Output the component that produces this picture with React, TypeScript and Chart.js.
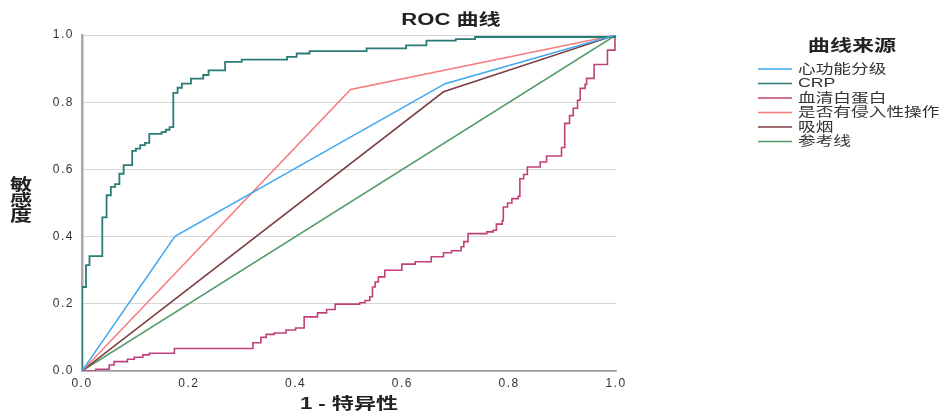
import React, { useEffect, useRef } from 'react';
import { Chart, registerables } from 'chart.js';

Chart.register(...registerables);

// ---- texts ----
const chartTitle = 'ROC 曲线';
const xAxisTitle = '1 - 特异性';
const yAxisTitle = ['敏', '感', '度'];
const legendTitle = '曲线来源';

// ---- series ----
const seriesLabels = ['心功能分级', 'CRP', '血清白蛋白', '是否有侵入性操作', '吸烟', '参考线'];
const seriesColors = ['#3fa6ef', '#2b7b76', '#c0407a', '#f7797c', '#7d3c3f', '#4f9c66'];

const tickValues = [0, 0.2, 0.4, 0.6, 0.8, 1.0];

const heartFpr = [0, 0.174, 0.68, 1];
const heartTpr = [0, 0.401, 0.855, 1];

const invasiveFpr = [0, 0.503, 1];
const invasiveTpr = [0, 0.838, 1];

const smokeFpr = [0, 0.677, 1];
const smokeTpr = [0, 0.831, 1];

const refFpr = [0, 1];
const refTpr = [0, 1];

// step points: at fpr, sensitivity rises to tpr
const crpFpr = [0, 0, 0.0075, 0.014, 0.038, 0.046, 0.054, 0.062, 0.070, 0.078, 0.094, 0.101, 0.109, 0.118, 0.126, 0.149, 0.157, 0.164, 0.171, 0.179, 0.187, 0.204, 0.227, 0.237, 0.268, 0.299, 0.384, 0.402, 0.426, 0.533, 0.607, 0.645, 0.700, 0.736, 1.0];
const crpTpr = [0, 0.25, 0.315, 0.342, 0.457, 0.523, 0.548, 0.556, 0.587, 0.613, 0.655, 0.662, 0.672, 0.679, 0.706, 0.711, 0.718, 0.726, 0.828, 0.843, 0.855, 0.870, 0.881, 0.895, 0.920, 0.927, 0.935, 0.945, 0.952, 0.960, 0.969, 0.983, 0.988, 0.994, 1.0];

const albFpr = [0, 0.026, 0.051, 0.060, 0.085, 0.098, 0.114, 0.126, 0.173, 0.320, 0.335, 0.345, 0.360, 0.382, 0.400, 0.416, 0.441, 0.458, 0.474, 0.520, 0.530, 0.539, 0.544, 0.549, 0.555, 0.567, 0.599, 0.624, 0.654, 0.677, 0.692, 0.710, 0.715, 0.723, 0.758, 0.770, 0.776, 0.787, 0.789, 0.797, 0.805, 0.817, 0.820, 0.827, 0.834, 0.858, 0.870, 0.898, 0.904, 0.913, 0.920, 0.928, 0.933, 0.942, 0.945, 0.959, 0.984, 0.998];
const albTpr = [0, 0.005, 0.018, 0.028, 0.035, 0.041, 0.048, 0.053, 0.067, 0.084, 0.100, 0.109, 0.113, 0.122, 0.128, 0.161, 0.173, 0.183, 0.199, 0.203, 0.210, 0.221, 0.250, 0.265, 0.280, 0.300, 0.318, 0.325, 0.340, 0.352, 0.358, 0.370, 0.385, 0.409, 0.414, 0.419, 0.437, 0.447, 0.488, 0.500, 0.513, 0.520, 0.572, 0.585, 0.607, 0.622, 0.640, 0.665, 0.737, 0.760, 0.782, 0.806, 0.841, 0.853, 0.871, 0.912, 0.955, 1.0];

const FONT = "'Liberation Sans', Arial, 'Noto Sans CJK SC', sans-serif";

function pts(xs: number[], ys: number[]) {
  return xs.map((x, i) => ({ x, y: ys[i] }));
}

function stretchText(ctx: CanvasRenderingContext2D, text: string, x: number, y: number, font: string, color: string, align: CanvasTextAlign, sx: number) {
  ctx.save();
  ctx.font = font;
  ctx.fillStyle = color;
  ctx.textBaseline = 'middle';
  ctx.textAlign = align;
  ctx.translate(x, y);
  ctx.scale(sx, 1);
  ctx.fillText(text, 0, 0);
  ctx.restore();
}

const decorPlugin = {
  id: 'decor',
  beforeDraw(chart: any) {
    (chart.ctx as any).letterSpacing = '1.5px';
  },
  afterDraw(chart: any) {
    const ctx: CanvasRenderingContext2D = chart.ctx;
    (ctx as any).letterSpacing = '0px';
    const a = chart.chartArea;
    const SX = 1.38;
    // main title
    stretchText(ctx, chartTitle, 451, 21, `bold 16px ${FONT}`, '#222', 'center', SX);
    // x title
    stretchText(ctx, xAxisTitle, (a.left + a.right) / 2, 405, `bold 16px ${FONT}`, '#222', 'center', SX);
    // y title stacked
    yAxisTitle.forEach((ch, i) => {
      stretchText(ctx, ch, 21, 186 + i * 15.5, `bold 16px ${FONT}`, '#222', 'center', SX);
    });
    // legend
    stretchText(ctx, legendTitle, 852, 47, `bold 16px ${FONT}`, '#222', 'center', SX);
    chart.data.datasets.forEach((ds: any, i: number) => {
      const y = 69 + i * 14.5;
      ctx.save();
      ctx.strokeStyle = ds.borderColor;
      ctx.lineWidth = 1.5;
      ctx.beginPath();
      ctx.moveTo(758, y);
      ctx.lineTo(792, y);
      ctx.stroke();
      ctx.restore();
      stretchText(ctx, ds.label, 798, y, `13px ${FONT}`, '#333', 'left', 1.36);
    });
  },
};

export default function App() {
  const ref = useRef<HTMLCanvasElement | null>(null);

  useEffect(() => {
    if (!ref.current) return;
    const mk = (i: number, data: any[], stepped = false, width = 1.5) => ({
      label: seriesLabels[i],
      data,
      borderColor: seriesColors[i],
      backgroundColor: seriesColors[i],
      borderWidth: width,
      pointRadius: 0,
      tension: 0,
      stepped: stepped ? 'before' : false,
      fill: false,
    });
    const chart = new Chart(ref.current, {
      type: 'line',
      data: {
        datasets: [
          mk(0, pts(heartFpr, heartTpr)),
          mk(1, pts(crpFpr, crpTpr), true, 1.8),
          mk(2, pts(albFpr, albTpr), true, 1.6),
          mk(3, pts(invasiveFpr, invasiveTpr)),
          mk(4, pts(smokeFpr, smokeTpr)),
          mk(5, pts(refFpr, refTpr)),
        ] as any,
      },
      options: {
        responsive: false,
        animation: false,
        devicePixelRatio: 1,
        layout: { padding: { top: 35, right: 329, bottom: 0, left: 0 } },
        plugins: { legend: { display: false }, title: { display: false }, tooltip: { enabled: false } },
        scales: {
          x: {
            type: 'linear',
            min: 0,
            max: 1,
            afterFit: (s: any) => { s.height = 44; },
            afterBuildTicks: (s: any) => { s.ticks = tickValues.map((v) => ({ value: v })); },
            grid: { display: false, drawTicks: false },
            border: { display: true, color: '#9a9a9a', width: 1.5 },
            ticks: {
              padding: 5,
              color: '#333',
              font: { family: FONT, size: 12 },
              callback: (v: any) => Number(v).toFixed(1),
              maxRotation: 0,
              autoSkip: false,
            },
          },
          y: {
            type: 'linear',
            min: 0,
            max: 1,
            afterFit: (s: any) => { s.width = 82; },
            afterBuildTicks: (s: any) => { s.ticks = tickValues.map((v) => ({ value: v })); },
            grid: { display: true, drawTicks: false, color: '#d6d6d6', lineWidth: 1 },
            border: { display: true, color: '#a8a8a8', width: 2.5 },
            ticks: {
              padding: 8,
              color: '#333',
              font: { family: FONT, size: 12 },
              callback: (v: any) => Number(v).toFixed(1),
              autoSkip: false,
            },
          },
        },
      } as any,
      plugins: [decorPlugin],
    });
    return () => chart.destroy();
  }, []);

  return (
    <div style={{ position: 'absolute', left: 0, top: 0, width: 945, height: 415, background: '#fff' }}>
      <canvas ref={ref} width={945} height={415} style={{ display: 'block', width: 945, height: 415 }} />
    </div>
  );
}
